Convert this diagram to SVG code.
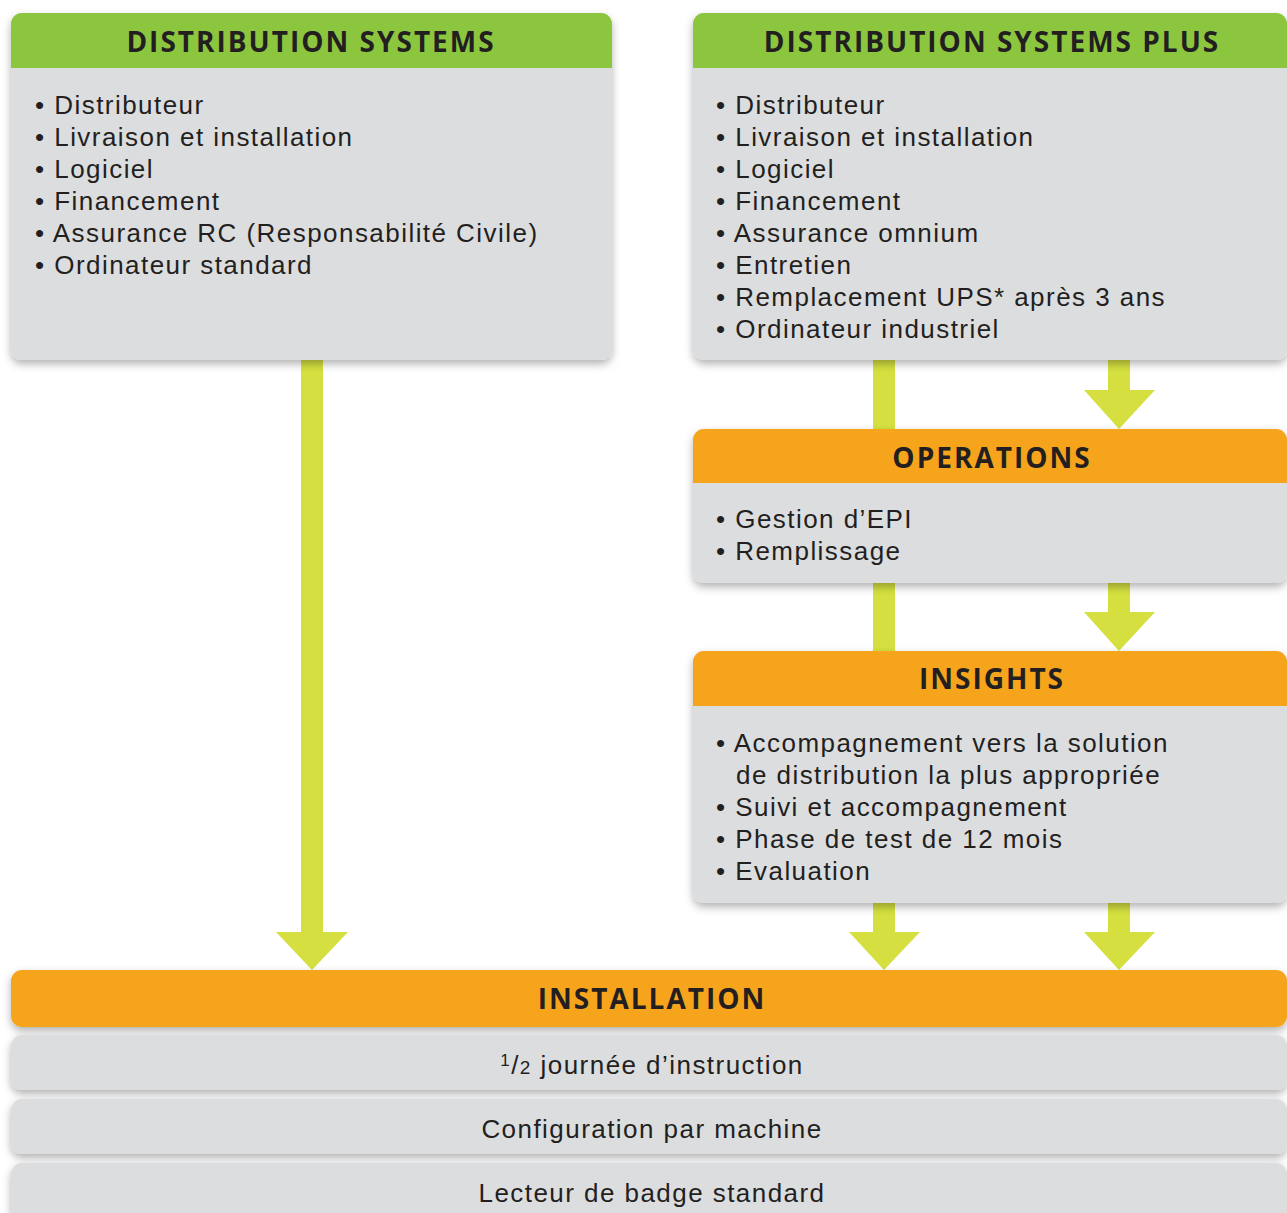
<svg xmlns="http://www.w3.org/2000/svg" width="1287" height="1213" viewBox="0 0 1287 1213">
<defs>
<filter id="sh" x="-5%" y="-10%" width="110%" height="130%">
<feDropShadow dx="0" dy="4" stdDeviation="4" flood-color="#000" flood-opacity="0.3"/>
</filter>
<style>
.body{fill:#dcdddf}
.green{fill:#8cc63f}
.orange{fill:#f6a41c}
.arrow{fill:#d5e040}
.h{font-family:"Open Sans","Liberation Sans",sans-serif;font-weight:700;font-size:28px;fill:#231f20;text-anchor:middle;letter-spacing:2px}
.t{font-family:"Liberation Sans",Arial,sans-serif;font-size:26px;fill:#231f20;letter-spacing:1.45px}
.c{text-anchor:middle}
</style>
</defs>
<rect width="1287" height="1213" fill="#fff"/>
<g id="connectors">
<rect class="arrow" x="301" y="355" width="22" height="578"/>
<polygon class="arrow" points="276,932 348,932 312,970"/>
<rect class="arrow" x="873" y="355" width="22" height="78"/>
<rect class="arrow" x="1108" y="355" width="22" height="36"/>
<polygon class="arrow" points="1084,390 1155,390 1119,429"/>
<rect class="arrow" x="873" y="578" width="22" height="77"/>
<rect class="arrow" x="1108" y="578" width="22" height="35"/>
<polygon class="arrow" points="1084,612 1155,612 1119,651"/>
<rect class="arrow" x="873" y="898" width="22" height="35"/>
<polygon class="arrow" points="849,932 920,932 884,970"/>
<rect class="arrow" x="1108" y="898" width="22" height="35"/>
<polygon class="arrow" points="1084,932 1155,932 1119,970"/>
</g>
<g id="ds">
<rect class="body" x="11" y="13" width="601" height="347" rx="11" filter="url(#sh)"/>
<path class="green" d="M11,68 V24 A11,11 0 0 1 22,13 H601 A11,11 0 0 1 612,24 V68 Z"/>
<text class="h" x="311" y="52">DISTRIBUTION SYSTEMS</text>
<text class="t" x="35" y="114">• Distributeur</text>
<text class="t" x="35" y="146">• Livraison et installation</text>
<text class="t" x="35" y="178">• Logiciel</text>
<text class="t" x="35" y="210">• Financement</text>
<text class="t" x="35" y="242">• Assurance RC (Responsabilité Civile)</text>
<text class="t" x="35" y="274">• Ordinateur standard</text>
</g>
<g id="dsplus">
<rect class="body" x="693" y="13" width="594" height="347" rx="11" filter="url(#sh)"/>
<path class="green" d="M693,68 V24 A11,11 0 0 1 704,13 H1276 A11,11 0 0 1 1287,24 V68 Z"/>
<text class="h" x="992" y="52">DISTRIBUTION SYSTEMS PLUS</text>
<text class="t" x="716" y="114">• Distributeur</text>
<text class="t" x="716" y="146">• Livraison et installation</text>
<text class="t" x="716" y="178">• Logiciel</text>
<text class="t" x="716" y="210">• Financement</text>
<text class="t" x="716" y="242">• Assurance omnium</text>
<text class="t" x="716" y="274">• Entretien</text>
<text class="t" x="716" y="306">• Remplacement UPS* après 3 ans</text>
<text class="t" x="716" y="338">• Ordinateur industriel</text>
</g>
<g id="operations">
<rect class="body" x="693" y="429" width="594" height="154" rx="11" filter="url(#sh)"/>
<path class="orange" d="M693,483 V440 A11,11 0 0 1 704,429 H1276 A11,11 0 0 1 1287,440 V483 Z"/>
<text class="h" x="992" y="468">OPERATIONS</text>
<text class="t" x="716" y="528">• Gestion d’EPI</text>
<text class="t" x="716" y="560">• Remplissage</text>
</g>
<g id="insights">
<rect class="body" x="693" y="651" width="594" height="252" rx="11" filter="url(#sh)"/>
<path class="orange" d="M693,706 V662 A11,11 0 0 1 704,651 H1276 A11,11 0 0 1 1287,662 V706 Z"/>
<text class="h" x="992" y="689">INSIGHTS</text>
<text class="t" x="716" y="752">• Accompagnement vers la solution</text>
<text class="t" x="736" y="784">de distribution la plus appropriée</text>
<text class="t" x="716" y="816">• Suivi et accompagnement</text>
<text class="t" x="716" y="848">• Phase de test de 12 mois</text>
<text class="t" x="716" y="880">• Evaluation</text>
</g>
<g id="installation">
<rect class="orange" x="11" y="970" width="1276" height="57" rx="11" filter="url(#sh)"/>
<text class="h" x="652" y="1009">INSTALLATION</text>
</g>
<g id="row1">
<rect class="body" x="11" y="1035" width="1276" height="55" rx="11" filter="url(#sh)"/>
<text class="t c" x="652" y="1074"><tspan font-size="17" dy="-8">1</tspan><tspan dy="8">/</tspan><tspan font-size="19">2</tspan> journée d’instruction</text>
</g>
<g id="row2">
<rect class="body" x="11" y="1099" width="1276" height="55" rx="11" filter="url(#sh)"/>
<text class="t c" x="652" y="1138">Configuration par machine</text>
</g>
<g id="row3">
<rect class="body" x="11" y="1163" width="1276" height="60" rx="11" filter="url(#sh)"/>
<text class="t c" x="652" y="1202">Lecteur de badge standard</text>
</g>
</svg>
